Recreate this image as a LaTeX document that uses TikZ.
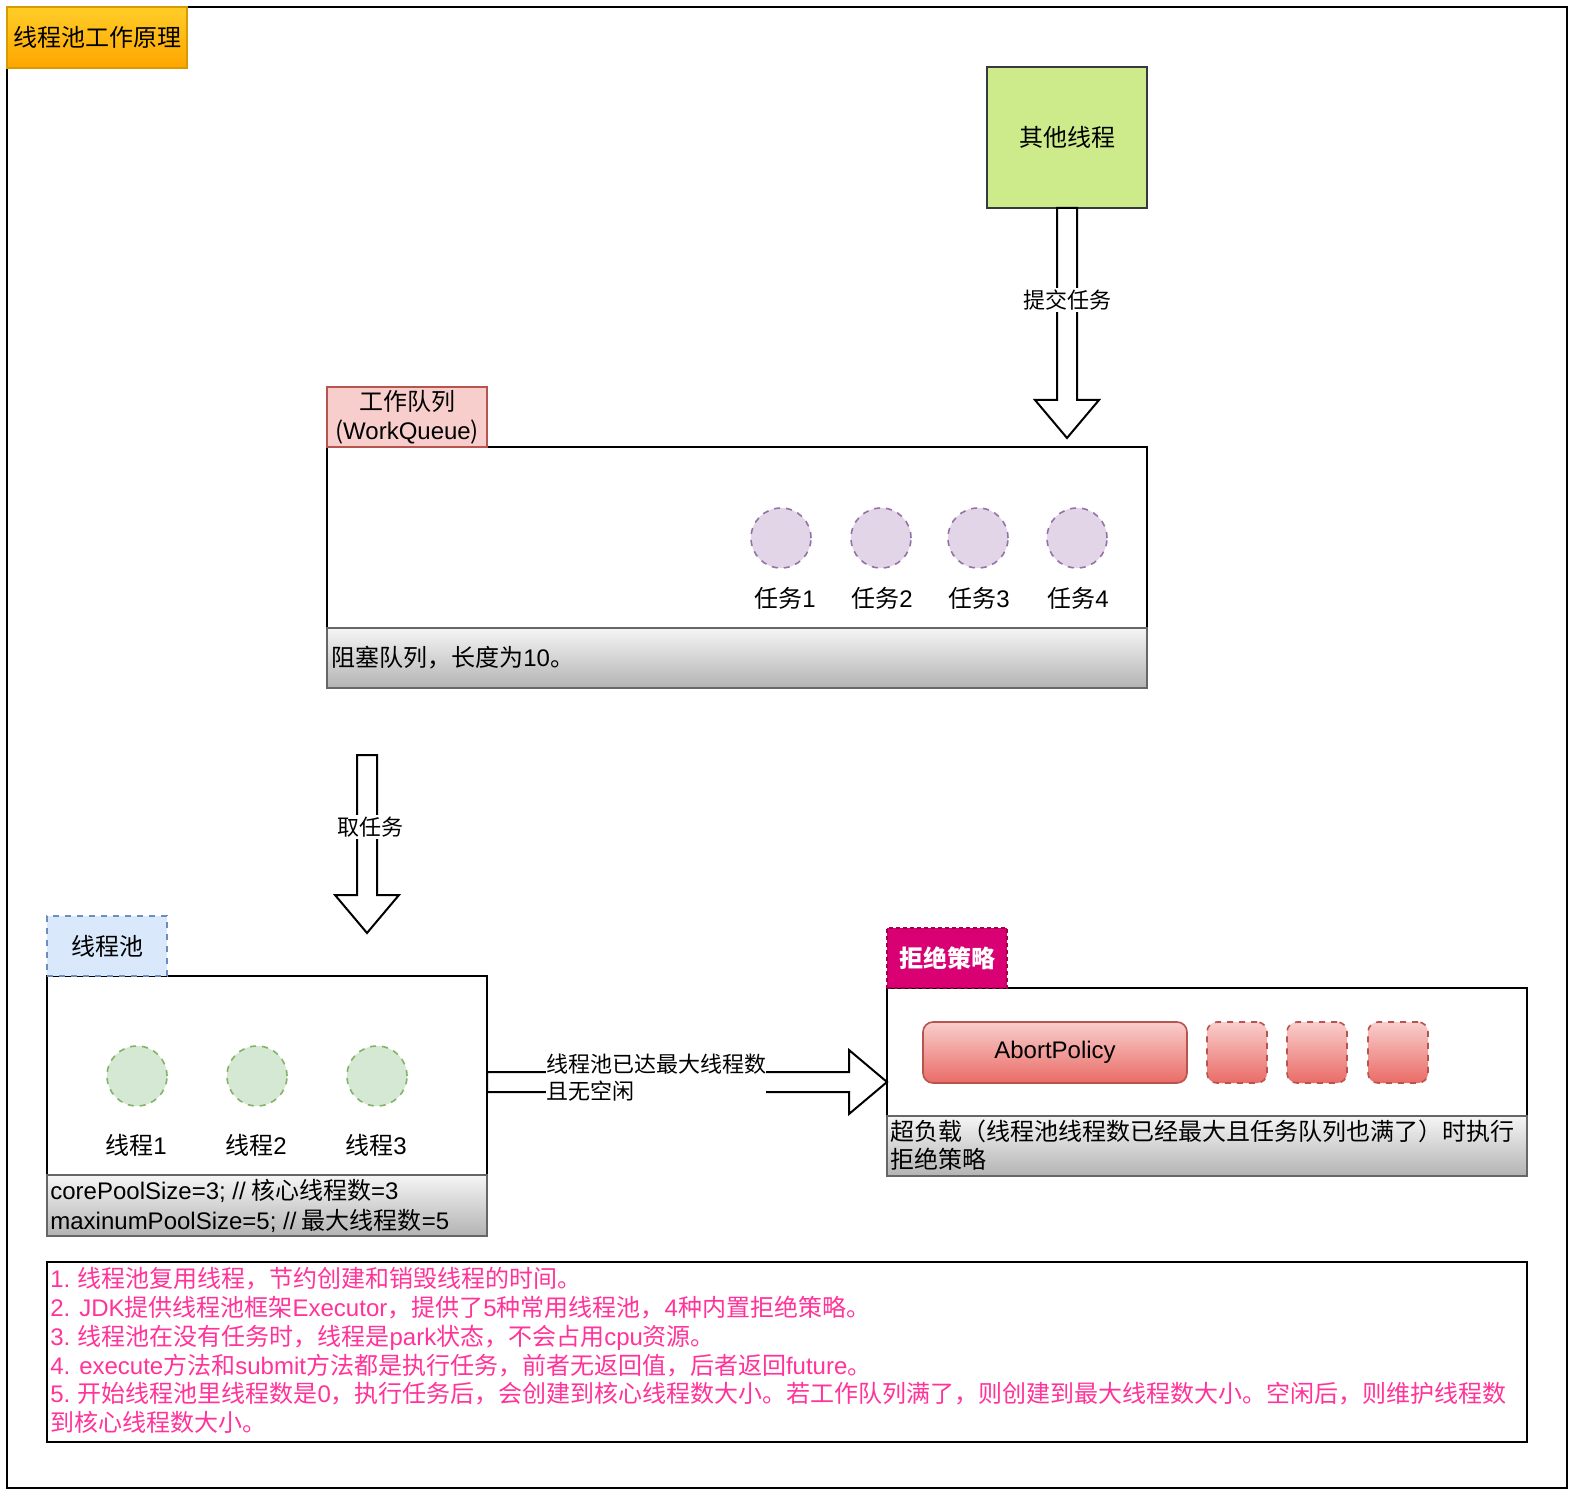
\documentclass[tikz,border=0pt]{standalone}
\usepackage{fontspec}
\setmainfont{Noto Sans CJK SC}
\newfontfamily\lat{Liberation Sans}
\usetikzlibrary{calc}
\definecolor{titletop}{HTML}{FFCD28}
\definecolor{titlebot}{HTML}{FFA500}
\definecolor{titleline}{HTML}{D79B00}
\definecolor{callerfill}{HTML}{CDEB8B}
\definecolor{callerline}{HTML}{36393D}
\definecolor{queuefill}{HTML}{F8CECC}
\definecolor{queueline}{HTML}{B85450}
\definecolor{taskfill}{HTML}{E1D5E7}
\definecolor{taskline}{HTML}{9673A6}
\definecolor{foottop}{HTML}{F5F5F5}
\definecolor{footbot}{HTML}{B3B3B3}
\definecolor{footline}{HTML}{666666}
\definecolor{poolfill}{HTML}{DAE8FC}
\definecolor{poolline}{HTML}{6C8EBF}
\definecolor{workfill}{HTML}{D5E8D4}
\definecolor{workline}{HTML}{82B366}
\definecolor{rejectfill}{HTML}{D80073}
\definecolor{rejectline}{HTML}{A50040}
\definecolor{policytop}{HTML}{F8CECC}
\definecolor{policybot}{HTML}{EA6B66}
\definecolor{noteink}{HTML}{FF3399}
\newcommand\en[1]{{\lat #1}}
\tikzset{
  panel/.style={draw, line width=1pt, fill=white, inner sep=0pt, outer sep=0pt},
  tagbox/.style={line width=0.8pt, inner sep=0pt, outer sep=0pt, minimum width=60pt, minimum height=30pt, align=center},
  footbar/.style={draw=footline, line width=0.8pt, top color=foottop, bottom color=footbot, inner sep=0pt, outer sep=0pt},
  task/.style={circle, draw=taskline, fill=taskfill, dashed, line width=0.8pt, minimum size=30pt, inner sep=0pt},
  worker/.style={circle, draw=workline, fill=workfill, dashed, line width=0.8pt, minimum size=30pt, inner sep=0pt},
  policy/.style={draw=queueline, line width=0.8pt, rounded corners=5pt, top color=policytop, bottom color=policybot, minimum height=30.5pt, inner sep=0pt},
  fatline/.style={draw, line width=1pt, fill=white, line join=miter},
  edgelbl/.style={fill=white, font=\fontsize{11}{13.5}\selectfont, inner xsep=0pt, inner ysep=1pt, align=left},
  txt/.style={font=\fontsize{12}{14.4}\selectfont, inner sep=0pt, align=left},
}
% hollow block arrows: shaft from #1 to the tip #2
\newcommand\fatdown[2]{%
  \filldraw[fatline] ($(#1)+(-10,0)$) -- ($(#2)+(-10,-38)$) -- ($(#2)+(-32,-38)$) -- (#2)
    -- ($(#2)+(32,-38)$) -- ($(#2)+(10,-38)$) -- ($(#1)+(10,0)$) -- cycle;}
\newcommand\fatright[2]{%
  \filldraw[fatline] ($(#1)+(0,-10)$) -- ($(#2)+(-38,-10)$) -- ($(#2)+(-38,-32)$) -- (#2)
    -- ($(#2)+(-38,32)$) -- ($(#2)+(-38,10)$) -- ($(#1)+(0,10)$) -- cycle;}

\begin{document}
\begin{tikzpicture}[x=0.5pt, y=-0.5pt, font=\fontsize{12}{14.4}\selectfont]
  \useasboundingbox (0,0) rectangle (1576,1498);
  \node[draw, line width=1pt, inner sep=0pt, minimum width=780pt, minimum height=740.5pt] (page) at (787,747.5) {};
  \node[tagbox, draw=titleline, top color=titletop, bottom color=titlebot, minimum width=90pt, minimum height=30.5pt] (title) at (97,37.5) {线程池工作原理};

  % Caller and the work queue.
  \node[tagbox, draw=callerline, fill=callerfill, minimum width=80pt, minimum height=70.5pt] (other) at (1067,137.5) {其他线程};
  \node[panel, minimum width=410pt, minimum height=120.5pt] (wq) at (737,567.5) {};
  \node[tagbox, draw=queueline, fill=queuefill, minimum width=80pt] (wq-tag) at (407,417) {工作队列\\(\en{WorkQueue})};
  \node[footbar, anchor=south west, minimum width=410pt, minimum height=30pt] (wq-foot) at (wq.south west) {};
  \node[txt, anchor=west] (wq-note) at ($(wq-foot.west)+(4,0)$) {阻塞队列，长度为\en{10}。};
  \node[task] (task1) at (781,538) {};
  \node[task] (task2) at (881,538) {};
  \node[task] (task3) at (978,538) {};
  \node[task] (task4) at (1077,538) {};
  \node[txt] (task1-lbl) at (785,598) {任务\en{1}};
  \node[txt] (task2-lbl) at (882,598) {任务\en{2}};
  \node[txt] (task3-lbl) at (979,598) {任务\en{3}};
  \node[txt] (task4-lbl) at (1078,598) {任务\en{4}};

  \coordinate (submit-tip) at ($(wq.north -| other.south)+(0,-9)$);
  \fatdown{other.south}{submit-tip}
  \node[edgelbl] (submit-lbl) at ($(other.south)+(0,92)$) {提交任务};

  % Thread pool.
  \coordinate (take-top) at ($(wq.south west)+(40,67)$);
  \coordinate (take-tip) at ($(take-top)+(0,178)$);
  \fatdown{take-top}{take-tip}
  \node[edgelbl] (take-lbl) at ($(take-top)+(3,72)$) {取任务};

  \node[panel, minimum width=220pt, minimum height=130pt] (pool) at (267,1106) {};
  \node[tagbox, draw=poolline, fill=poolfill, dashed] (pool-tag) at (107,946) {线程池};
  \node[footbar, anchor=south west, minimum width=220pt, minimum height=30.5pt] (pool-foot) at (pool.south west) {};
  \node[txt, anchor=west, font=\fontsize{12}{15}\selectfont] (pool-note) at ($(pool-foot.west)+(3,0)$)
    {\en{corePoolSize=3; //} 核心线程数\en{=3}\\\en{maxinumPoolSize=5; //} 最大线程数\en{=5}};
  \node[worker] (worker1) at (137,1076) {};
  \node[worker] (worker2) at (257,1076) {};
  \node[worker] (worker3) at (377,1076) {};
  \node[txt] (worker1-lbl) at (136,1145) {线程\en{1}};
  \node[txt] (worker2-lbl) at (256,1145) {线程\en{2}};
  \node[txt] (worker3-lbl) at (376,1145) {线程\en{3}};

  % Rejection policy.
  \node[panel, minimum width=320pt, minimum height=94pt] (reject) at (1207,1082) {};
  \node[tagbox, draw=rejectline, fill=rejectfill, dash pattern=on 2pt off 1.5pt, text=white, font=\fontsize{12}{14.4}\selectfont\bfseries] (reject-tag) at (947,958) {拒绝策略};
  \node[footbar, anchor=south west, minimum width=320pt, minimum height=30pt] (reject-foot) at (reject.south west) {};
  \node[txt, anchor=west, font=\fontsize{12}{14}\selectfont] (reject-note) at ($(reject-foot.west)+(3,-1)$)
    {超负载（线程池线程数已经最大且任务队列也满了）时执行\\拒绝策略};
  \node[policy, minimum width=132pt] (abort) at (1055,1052.5) {\en{AbortPolicy}};
  \node[policy, dashed, minimum width=30pt] (slot1) at (1237,1052.5) {};
  \node[policy, dashed, minimum width=30pt] (slot2) at (1317,1052.5) {};
  \node[policy, dashed, minimum width=30pt] (slot3) at (1398,1052.5) {};

  \coordinate (pool-out) at (pool.east |- reject.west);
  \fatright{pool-out}{reject.west}
  \node[edgelbl] (full-lbl) at (656,1077.5) {线程池已达最大线程数\\且无空闲};

  % Notes.
  \node[panel, minimum width=740pt, minimum height=90pt] (notes) at (787,1352) {};
  \node[txt, anchor=north west, text=noteink] (notes-text) at ($(notes.north west)+(3,5)$) {%
    \en{1.} 线程池复用线程，节约创建和销毁线程的时间。\\
    \en{2. JDK}提供线程池框架\en{Executor}，提供了\en{5}种常用线程池，\en{4}种内置拒绝策略。\\
    \en{3.} 线程池在没有任务时，线程是\en{park}状态，不会占用\en{cpu}资源。\\
    \en{4. execute}方法和\en{submit}方法都是执行任务，前者无返回值，后者返回\en{future}。\\
    \en{5.} 开始线程池里线程数是\en{0}，执行任务后，会创建到核心线程数大小。若工作队列满了，则创建到最大线程数大小。空闲后，则维护线程数\\
    到核心线程数大小。};
\end{tikzpicture}
\end{document}
